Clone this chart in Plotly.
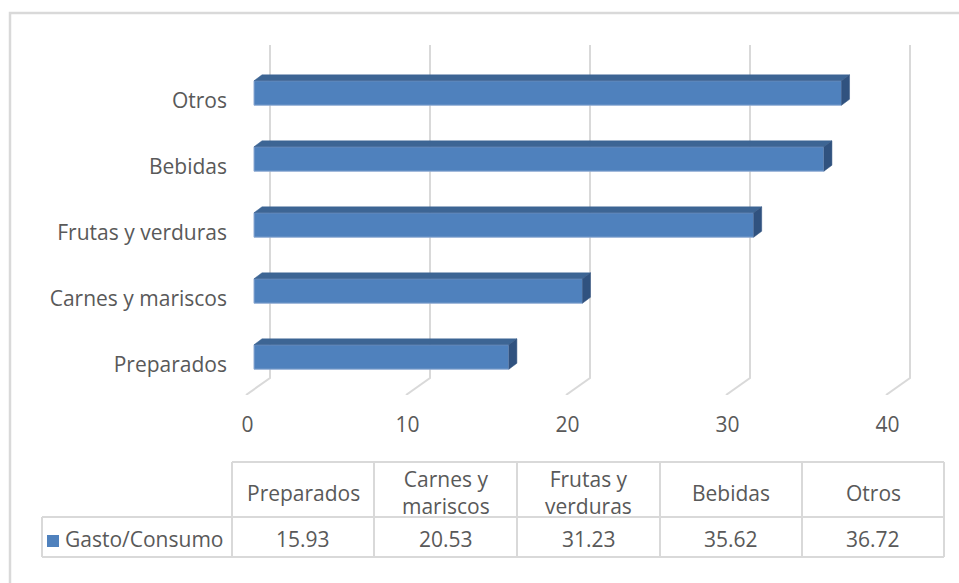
import plotly.graph_objects as go

# datos
categorias = ["Preparados", "Carnes y mariscos", "Frutas y verduras", "Bebidas", "Otros"]
encabezados = ["Preparados", "Carnes y<br>mariscos", "Frutas y<br>verduras", "Bebidas", "Otros"]
gasto = [15.93, 20.53, 31.23, 35.62, 36.72]
serie = "Gasto/Consumo"
ticks_x = [0, 10, 20, 30, 40]

W, H = 959, 583
FONT = "Open Sans"
SIZE = 21
GRIS = "#595959"
LINEA = "#d9d9d9"
AZUL = "#4F81BD"
AZUL_TOP = "#3D6594"
AZUL_LADO = "#30527F"

# efecto 3D (en unidades de los ejes)
dx, dy = 0.5, 0.09
ancho = 0.37


def fx(p):
    return p / W


def fy(p):
    return 1 - p / H


fig = go.Figure()

pos = list(range(len(categorias)))

# cara frontal
fig.add_trace(go.Bar(
    x=gasto,
    y=pos,
    orientation='h',
    width=ancho,
    marker=dict(color=AZUL, line=dict(color="#8eaad3", width=1)),
    name=serie,
    hoverinfo='skip'
))

# cara superior y lateral
for i, v in zip(pos, gasto):
    top = i + ancho / 2
    bot = i - ancho / 2
    fig.add_trace(go.Scatter(
        x=[0, dx, v + dx, v, 0],
        y=[top, top + dy, top + dy, top, top],
        fill='toself', fillcolor=AZUL_TOP, mode='lines',
        line=dict(color=AZUL_TOP, width=0.5),
        hoverinfo='skip', showlegend=False
    ))
    fig.add_trace(go.Scatter(
        x=[v, v + dx, v + dx, v, v],
        y=[bot, bot + dy, top + dy, top, bot],
        fill='toself', fillcolor=AZUL_LADO, mode='lines',
        line=dict(color=AZUL_LADO, width=0.5),
        hoverinfo='skip', showlegend=False
    ))

# rejilla: plano del fondo + diagonal hacia el piso frontal
y_arriba, y_fondo, y_frente = 4.727, -0.318, -0.576
for v in ticks_x:
    fig.add_shape(type='path', xref='x', yref='y', layer='below',
                  path=f"M {v + 1} {y_arriba} L {v + 1} {y_fondo} L {v - 0.5} {y_frente}",
                  line=dict(color=LINEA, width=2))

# borde del gráfico
fig.add_shape(type='rect', xref='paper', yref='paper',
              x0=fx(10), x1=1.05, y0=-0.05, y1=fy(13),
              line=dict(color=LINEA, width=2.5))

# tabla de datos (dibujada a mano)
cols = [42, 232, 374, 517, 660, 802, 944]
fila_top, fila_mid, fila_bot = 462, 517, 557


def linea(x0, y0, x1, y1):
    fig.add_shape(type='line', xref='paper', yref='paper',
                  x0=fx(x0), y0=fy(y0), x1=fx(x1), y1=fy(y1),
                  line=dict(color=LINEA, width=2))


linea(cols[1], fila_top, cols[-1], fila_top)
linea(cols[0], fila_mid, cols[-1], fila_mid)
linea(cols[0], fila_bot, cols[-1], fila_bot)
linea(cols[0], fila_mid, cols[0], fila_bot)
for c in cols[1:]:
    linea(c, fila_top, c, fila_bot)

for k, (enc, v) in enumerate(zip(encabezados, gasto)):
    xc = fx((cols[k + 1] + cols[k + 2]) / 2)
    fig.add_annotation(x=xc, y=fy((fila_top + fila_mid) / 2 + 3), xref='paper', yref='paper',
                       text=enc, showarrow=False, xanchor='center', yanchor='middle',
                       font=dict(family=FONT, size=SIZE, color=GRIS))
    fig.add_annotation(x=xc, y=fy((fila_mid + fila_bot) / 2 + 2), xref='paper', yref='paper',
                       text=f"{v:.2f}", showarrow=False, xanchor='center', yanchor='middle',
                       font=dict(family=FONT, size=SIZE, color=GRIS))

# clave de la serie
fig.add_shape(type='rect', xref='paper', yref='paper',
              x0=fx(47), x1=fx(59), y0=fy(547), y1=fy(535),
              fillcolor=AZUL, line=dict(width=0))
fig.add_annotation(x=fx(63), y=fy((fila_mid + fila_bot) / 2 + 2), xref='paper', yref='paper',
                   text=serie, showarrow=False, xanchor='left', yanchor='middle',
                   font=dict(family=FONT, size=SIZE, color=GRIS))

fig.update_layout(
    width=W, height=H,
    margin=dict(l=0, r=0, t=0, b=0),
    plot_bgcolor='white',
    paper_bgcolor='white',
    showlegend=False,
    hovermode=False,
    font=dict(family=FONT, size=SIZE, color=GRIS),
    xaxis=dict(
        domain=[fx(230), fx(930)],
        range=[-1.5, 42.25],
        tickvals=[v - 0.4 for v in ticks_x],
        ticktext=[str(v) for v in ticks_x],
        showgrid=False, zeroline=False, showline=False,
        ticks='', ticklabelstandoff=15,
        tickfont=dict(size=SIZE, color=GRIS)
    ),
    yaxis=dict(
        domain=[fy(395), fy(40)],
        range=[-0.576, 4.803],
        tickvals=[i - 0.12 for i in pos],
        ticktext=categorias,
        showgrid=False, zeroline=False, showline=False,
        ticks='', ticklabelstandoff=2,
        tickfont=dict(size=SIZE, color=GRIS)
    )
)

fig.write_html("out.html", config={'displayModeBar': False},
               post_script="document.body.style.margin='0px';")
